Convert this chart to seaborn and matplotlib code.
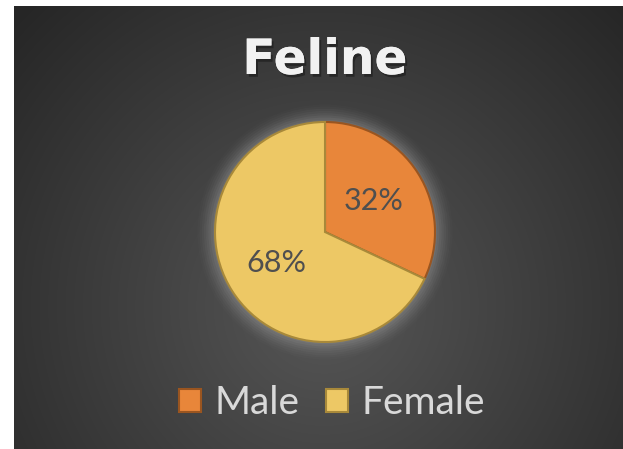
import numpy as np
import matplotlib
matplotlib.use("Agg")
import matplotlib.pyplot as plt
import matplotlib.patheffects as pe
import seaborn as sns

# data
labels = ["Male", "Female"]
shares = [32, 68]
colors = ["#E8863A", "#EDC865"]
edge_colors = ["#9A5520", "#A8893A"]

sns.set_theme(style="dark")
plt.rcParams['font.family'] = ['Lato', 'DejaVu Sans']

W, H = 623, 449
fig = plt.figure(figsize=(W / 100, H / 100), dpi=100)
fig.patch.set_facecolor("white")

# dark panel with radial gradient
bg = fig.add_axes([14 / W, 0, 1 - 14 / W, 1 - 6 / H])
bg.set_axis_off()
yy, xx = np.mgrid[0:443, 0:609]
d = np.hypot(xx - 310, yy - 300)
shade = np.clip(0.34 - d / 400 * 0.18, 0.15, 0.35)
bg.imshow(np.dstack([shade] * 3), aspect="auto", interpolation="bilinear")

# pie
cx, cy, r = 325, 232, 110
ax = fig.add_axes([(cx - r) / W, (H - cy - r) / H, 2 * r / W, 2 * r / H])
ax.set_facecolor("none")

# soft glow behind the pie
for k, a in zip(np.linspace(1.16, 1.0, 9), np.linspace(0.02, 0.10, 9)):
    ax.add_patch(plt.Circle((0, 0), k, color="#bbbbbb", alpha=a, lw=0,
                            zorder=0, clip_on=False))

wedges, texts = ax.pie(shares, colors=colors, startangle=90, counterclock=False,
                       labels=[f"{s}%" for s in shares], labeldistance=0.52,
                       wedgeprops=dict(linewidth=1.5),
                       textprops=dict(color="#4f4f4f", fontsize=22))
for w, ec in zip(wedges, edge_colors):
    w.set_edgecolor(ec)
    w.set_zorder(2)
for t in texts:
    t.set_zorder(3)
    t.set_ha("center")
    t.set_va("center")
ax.set_xlim(-1, 1)
ax.set_ylim(-1, 1)
ax.set_aspect("equal")

fig.text(cx / W, 1 - 60 / H, "Feline", ha="center", va="center",
         fontsize=35, fontweight="bold", color="#F2F2F2", family="DejaVu Sans",
         path_effects=[pe.withSimplePatchShadow(offset=(1.5, -2), shadow_rgbFace="#1a1a1a", alpha=0.6),
                       pe.Normal()])

fig.legend(wedges, labels, loc="center", bbox_to_anchor=(332 / W, 1 - 403 / H),
           ncol=2, frameon=False, fontsize=28, labelcolor="#D9D9D9",
           handlelength=0.55, handleheight=0.55, handletextpad=0.35,
           columnspacing=0.7)

fig.savefig("out.png", dpi=100, facecolor=fig.get_facecolor())
